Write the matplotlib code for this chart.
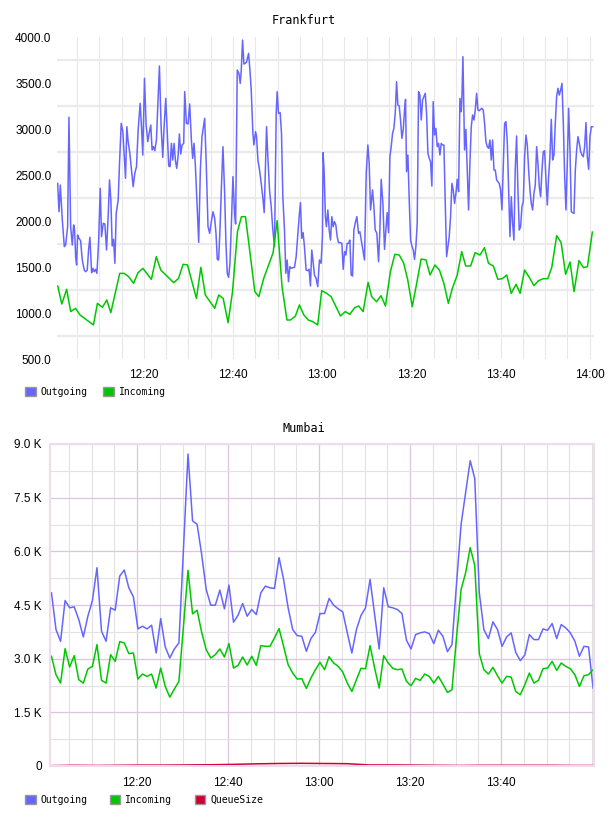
import numpy as np
import matplotlib
matplotlib.use("Agg")
import matplotlib.pyplot as plt
from matplotlib.patches import Patch
from matplotlib.ticker import MultipleLocator, FixedLocator

# --- Frankfurt: minutes after 12:00 and values ---
fra_out_t = [0.68, 0.98, 1.27, 1.72, 2.17, 2.47, 2.91, 3.21, 3.59, 3.96,
             4.26, 4.48, 4.71, 4.93, 5.15, 5.45, 5.82, 6.20, 6.64, 6.94,
             7.32, 7.61, 7.91, 8.29, 8.58, 8.88, 9.18, 9.48, 9.85, 10.23,
             10.52, 10.90, 11.27, 11.64, 12.02, 12.31, 12.61, 12.91, 13.21, 13.51,
             13.81, 14.25, 14.55, 14.93, 15.30, 15.60, 15.90, 16.19, 16.49, 16.87,
             17.24, 17.61, 17.98, 18.36, 18.73, 19.18, 19.48, 19.77, 20.15, 20.52,
             20.89, 21.19, 21.56, 21.86, 22.16, 22.46, 22.83, 23.21, 23.50, 23.88,
             24.25, 24.55, 24.92, 25.29, 25.59, 25.89, 26.19, 26.49, 26.79, 27.09,
             27.38, 27.68, 27.98, 28.28, 28.58, 28.95, 29.17, 29.55, 29.92, 30.29,
             30.67, 30.96, 31.26, 31.56, 32.01, 32.31, 32.68, 33.05, 33.43, 33.65,
             34.02, 34.40, 34.77, 35.14, 35.52, 35.89, 36.19, 36.48, 36.78, 37.08,
             37.38, 37.75, 38.13, 38.42, 38.72, 39.02, 39.32, 39.62, 39.99, 40.36,
             40.59, 40.96, 41.33, 41.63, 41.86, 42.15, 42.45, 42.75, 43.05, 43.50,
             43.80, 44.09, 44.47, 44.69, 45.06, 45.29, 45.59, 45.96, 46.33, 46.71,
             47.00, 47.53, 47.82, 48.20, 48.57, 48.94, 49.32, 49.69, 49.91, 50.21,
             50.58, 50.88, 51.18, 51.55, 51.85, 52.15, 52.45, 52.75, 53.05, 53.42,
             53.79, 54.17, 54.54, 54.84, 55.13, 55.43, 55.73, 56.03, 56.40, 56.78,
             57.07, 57.37, 57.67, 57.97, 58.27, 58.64, 59.01, 59.39, 59.76, 60.06,
             60.21, 60.43, 60.73, 60.95,
             61.28, 61.58, 61.87, 62.17, 62.47, 62.77, 63.07, 63.37, 63.67, 64.04,
             64.42, 64.72, 65.02, 65.32, 65.61, 65.91, 66.21, 66.51, 66.81, 67.11,
             67.41, 67.78, 68.16, 68.46, 68.76, 69.13, 69.50, 69.88, 70.25, 70.55,
             70.85, 71.30, 71.60, 71.90, 72.27, 72.65, 72.95, 73.24, 73.62, 73.99,
             74.29, 74.59, 74.89, 75.19, 75.49, 75.79, 76.09, 76.39, 76.69, 76.98,
             77.28, 77.58, 77.88, 78.18, 78.48, 78.70, 78.93, 79.23, 79.53, 79.83,
             80.13, 80.43, 80.72, 81.02, 81.32, 81.62, 81.92, 82.22, 82.52, 82.82,
             83.12, 83.42, 83.72, 84.02, 84.31, 84.61, 84.91, 85.21, 85.51, 85.81,
             86.11, 86.41, 86.71, 87.01, 87.31, 87.61, 87.91, 88.20, 88.50, 88.80,
             89.10, 89.40, 89.70, 90.00, 90.30, 90.60, 90.90, 91.20, 91.35, 91.57,
             91.80, 91.94, 92.24, 92.54, 92.84, 93.14, 93.44, 93.74, 94.04, 94.34,
             94.64, 94.94, 95.24, 95.53, 95.83, 96.13, 96.43, 96.73, 97.03, 97.33,
             97.63, 97.93, 98.23, 98.53, 98.83, 99.13, 99.42, 99.72, 100.02, 100.32,
             100.62, 100.92, 101.22, 101.52, 101.82, 102.12, 102.42, 102.72, 103.01, 103.31,
             103.61, 103.91, 104.21, 104.51, 104.81, 105.11, 105.41, 105.71, 106.01, 106.31,
             106.61, 106.90, 107.20, 107.50, 107.80, 108.10, 108.40, 108.70, 109.00, 109.30,
             109.60, 109.90, 110.20, 110.50, 110.79, 111.09, 111.39, 111.69, 111.99, 112.29,
             112.59, 112.89, 113.19, 113.49, 113.79, 114.09, 114.39, 114.68, 114.98, 115.28,
             115.58, 115.88, 116.18, 116.48, 116.78, 117.08, 117.38, 117.68, 117.97, 118.27,
             118.57, 118.87, 119.17, 119.47, 119.77, 120.07, 120.37, 120.67]
fra_out = [2409, 2101, 2391, 2011, 1721, 1739, 1938, 3127, 1938, 1739,
           1957, 1902, 1612, 1522, 1848, 1812, 1786, 1576, 1467, 1449,
           1467, 1685, 1823, 1438, 1485, 1449, 1475, 1431, 1757, 2355,
           1830, 1975, 1967, 1685, 2065, 2446, 2228, 1728, 1801, 1540,
           2083, 2228, 2627, 3062, 2971, 2717, 2464, 3025, 2862, 2735,
           2554, 2373, 2518, 2591, 2989, 3279, 3025, 2717, 3551, 3043,
           2862, 2953, 3043, 2772, 2808, 2764, 2880, 3351, 3685, 3025,
           2692, 3025, 3333, 2917, 2598, 2591, 2844, 2663, 2844, 2656,
           2572, 2699, 2946, 2728, 2826, 2844, 3406, 3062, 3054, 3272,
           2880, 2681, 2844, 2609, 2120, 1768, 2554, 2917, 3043, 3116,
           2591, 1938, 1866, 1993, 2101, 2029, 1866, 1583, 1576, 1902,
           2337, 2808, 2301, 1757, 1431, 1388, 1540, 1938, 2482, 2083,
           1967, 3641, 3605, 3496, 3641, 3967, 3706, 3714, 3728, 3822,
           3641, 3424, 2953, 2826, 2971, 2917, 2663, 2554, 2409, 2246,
           2091, 3025, 2699, 2337, 2156, 1902, 1721, 3170, 3406, 3170,
           3177, 2953, 2264, 1902, 1431, 1576, 1341, 1504, 1486, 1493,
           1496, 1612, 1848, 2047, 2199, 1812, 1873, 1721, 1467, 1460,
           1475, 1294, 1685, 1558, 1413, 1377, 1286, 1576, 1540, 1830,
           2743, 2554, 2047, 1938,
           2120, 1902, 1793, 2047, 1938, 1993, 1957, 1830, 1765, 1765,
           1757, 1475, 1667, 1630, 1757, 1757, 1793, 1413, 1402, 1902,
           1975, 2047, 1866, 1884, 1793, 1685, 1576, 2518, 2826, 2627,
           2120, 2337, 2156, 1902, 1866, 1558, 1902, 2453, 2192, 1692,
           1902, 2091, 1873, 2699, 2808, 2953, 3007, 3170, 3514, 3261,
           3250, 3098, 2899, 2989, 3206, 3322, 2536, 2717, 2228, 1793,
           1728, 1685, 1583, 1721, 1975, 3406, 3369, 3098, 3315, 3351,
           3388, 3170, 2735, 2681, 2645, 2380, 3297, 2935, 3007, 2808,
           2844, 2717, 2844, 2826, 2826, 2192, 1612, 1721, 1830, 2047,
           2409, 2337, 2192, 2301, 2453, 2319, 3333, 3188, 3351, 3786,
           3170, 2772, 2996, 2554, 2120, 2627, 3025, 3152, 3098, 3206,
           3388, 3206, 3199, 3214, 3225, 3206, 3062, 2862, 2808, 2790,
           2880, 2663, 2880, 2554, 2554, 2446, 2428, 2409, 2337, 2120,
           2591, 3062, 3080, 2862, 2337, 1830, 2264, 1975, 1793, 2572,
           2924, 2337, 1902, 1938, 2156, 2210, 2699, 2935, 2826, 2554,
           2337, 2192, 2120, 2301, 2391, 2808, 2627, 2373, 2264, 2554,
           2754, 2764, 2446, 2174, 2482, 2699, 3105, 2663, 2717, 3062,
           3351, 3442, 3369, 3424, 3496, 3062, 2482, 2120, 2627, 3225,
           2772, 2101, 2091, 2083, 2554, 2772, 2917, 2844, 2754, 2717,
           2699, 2808, 3069, 2699, 2562, 2917, 3025, 3025]

fra_in_t = [0.7, 1.6, 2.7, 3.6, 4.7, 5.7, 8.7, 9.6, 10.7, 11.7,
            12.6, 14.6, 15.6, 16.6, 17.7, 18.7, 19.8, 21.7, 22.8, 23.8,
            26.7, 27.8, 28.8, 29.8, 31.8, 32.8, 33.8, 35.9, 36.8, 37.8,
            38.9, 39.9, 41.0, 41.9, 42.8, 44.9, 45.8, 46.9, 49.0, 49.9,
            51.0, 52.1, 52.9, 54.0, 54.9, 55.9, 56.9, 57.9, 59.0, 59.9,
            61.0, 62.0, 63.1, 64.1, 65.2, 66.2, 67.3, 68.2, 69.2, 70.3,
            71.1, 72.2, 73.2, 74.2, 75.3, 76.3, 77.3, 78.3, 79.2, 80.2,
            81.2, 82.2, 83.3, 84.2, 85.3, 86.3, 87.3, 88.3, 89.2, 90.3,
            91.3, 92.2, 93.3, 94.3, 95.4, 96.4, 97.3, 98.4, 99.4, 100.4,
            101.4, 102.4, 103.5, 104.4, 105.4, 106.5, 107.5, 108.5, 109.6, 110.6,
            111.5, 112.6, 113.6, 114.6, 115.6, 116.5, 117.6, 118.6, 119.5, 120.6]
fra_in = [1293, 1098, 1257, 1015, 1051, 978, 870, 1105, 1062, 1141,
          1004, 1431, 1431, 1395, 1323, 1438, 1485, 1366, 1612, 1467,
          1330, 1377, 1529, 1522, 1159, 1496, 1196, 1051, 1196, 1159,
          895, 1232, 1884, 2047, 2047, 1232, 1178, 1377, 1656, 2004,
          1286, 924, 924, 967, 1087, 978, 924, 906, 870, 1243,
          1214, 1178, 1069, 968, 1015, 986, 1058, 1076, 1015, 1333,
          1178, 1123, 1188, 1076, 1449, 1638, 1630, 1540, 1359, 1069,
          1322, 1587, 1576, 1413, 1522, 1467, 1322, 1105, 1268, 1413,
          1667, 1511, 1511, 1656, 1630, 1710, 1540, 1511, 1366, 1373,
          1413, 1214, 1312, 1214, 1467, 1384, 1297, 1351, 1373, 1373,
          1496, 1841, 1765, 1420, 1554, 1232, 1569, 1493, 1504, 1880]

# --- Mumbai: one sample per minute starting 12:01 ---
mum_start = 1.2
mum_out = [4841, 3813, 3486, 4626, 4421, 4449, 4093, 3608, 4187, 4626,
           5542, 3766, 3486, 4421, 4355, 5308, 5477, 4981, 4729, 3832,
           3907, 3832, 3935, 3159, 4121, 3327, 3019, 3271, 3439, 6060,
           8720, 6851, 6757, 5916, 4935, 4495, 4495, 4916, 4393, 5056,
           4019, 4215, 4542, 4187, 4374, 4234, 4841, 5028, 4981, 4963,
           5823, 5215, 4421, 3813, 3645, 3626, 3206, 3561, 3738, 4262,
           4262, 4682, 4495, 4393, 4308, 3720, 3159, 3813, 4206, 4421,
           5215, 4234, 3271, 4981, 4449, 4421, 4374, 4262, 3514, 3271,
           3673, 3720, 3748, 3701, 3421, 3794, 3626, 3196, 3393, 5100,
           6757, 7645, 8533, 8038, 4841, 3813, 3561, 4028, 3813, 3346,
           3608, 3720, 3178, 2944, 3103, 3673, 3533, 3533, 3832, 3794,
           3981, 3561, 3953, 3860, 3720, 3486, 3066, 3346, 3327, 2178]
mum_in = [3066, 2551, 2318, 3280, 2766, 3084, 2411, 2318, 2710, 2785,
          3393, 2393, 2318, 3112, 2925, 3477, 3439, 3140, 3159, 2430,
          2570, 2505, 2570, 2178, 2738, 2224, 1925, 2150, 2365, 3900,
          5467, 4252, 4355, 3738, 3252, 3019, 3112, 3271, 3047, 3421,
          2738, 2813, 3047, 2822, 3066, 2813, 3365, 3346, 3346, 3580,
          3841, 3346, 2832, 2598, 2430, 2439, 2168, 2458, 2692, 2897,
          2692, 3056, 2879, 2785, 2626, 2318, 2084, 2411, 2729, 2720,
          3365, 2738, 2178, 3084, 2879, 2729, 2692, 2710, 2365, 2243,
          2449, 2393, 2570, 2505, 2318, 2505, 2290, 2056, 2131, 3600,
          4935, 5402, 6103, 5608, 3140, 2692, 2570, 2757, 2523, 2318,
          2505, 2486, 2084, 1991, 2271, 2598, 2318, 2393, 2720, 2738,
          2925, 2673, 2879, 2785, 2720, 2551, 2224, 2523, 2551, 2692]
queue_t = [1, 6, 11, 16, 21, 26, 31, 36, 41, 46, 51, 56, 61, 66, 71, 76,
           81, 86, 91, 96, 101, 106, 111, 116, 120]
queue = [10, 20, 15, 20, 25, 25, 30, 35, 45, 60, 70, 75, 70, 65, 30, 30,
         25, 20, 15, 20, 20, 20, 20, 15, 15]

time_ticks = [20, 40, 60, 80, 100, 120]
time_labels = ["12:20", "12:40", "13:00", "13:20", "13:40", "14:00"]
fra_yticks = [500, 1000, 1500, 2000, 2500, 3000, 3500, 4000]
fra_ylabels = ["500.0", "1000.0", "1500.0", "2000.0", "2500.0", "3000.0", "3500.0", "4000.0"]
mum_yticks = [0, 1500, 3000, 4500, 6000, 7500, 9000]
mum_ylabels = ["0", "1.5 K", "3.0 K", "4.5 K", "6.0 K", "7.5 K", "9.0 K"]

BLUE = "#6666ff"
GREEN = "#00c800"
RED = "#cc0033"
W, H = 608, 816

fig = plt.figure(figsize=(W / 100, H / 100), dpi=100)
tick_font = {"family": "Liberation Sans", "size": 8.5}
mono = "DejaVu Sans Mono"


def box(l, t, r, b):
    return [l / W, 1 - b / H, (r - l) / W, (b - t) / H]


# ---------------- Frankfurt ----------------
ax1 = fig.add_axes(box(57, 37, 594, 359))
ax1.plot(fra_out_t, fra_out, color=BLUE, lw=1.1)
ax1.plot(fra_in_t, fra_in, color=GREEN, lw=1.1)
ax1.set_xlim(0.53, 120.97)
ax1.set_ylim(500, 4000)
ax1.xaxis.set_major_locator(FixedLocator(time_ticks))
ax1.set_xticklabels(time_labels, **tick_font)
ax1.xaxis.set_minor_locator(MultipleLocator(5))
ax1.set_yticks(fra_yticks)
ax1.set_yticklabels(fra_ylabels, **tick_font)
ax1.yaxis.set_minor_locator(FixedLocator(np.arange(750, 4000, 500)))
ax1.grid(which="both", axis="x", color="#e8e8e8", lw=0.8)
ax1.grid(which="minor", axis="y", color="#ebebeb", lw=1.6)
ax1.tick_params(which="both", length=0)
ax1.tick_params(axis="y", pad=4)
ax1.tick_params(axis="x", pad=7)
for s in ax1.spines.values():
    s.set_visible(False)
ax1.set_axisbelow(True)
fig.text(0.5, 1 - 20 / H, "Frankfurt", ha="center", va="center", family=mono, fontsize=8.5)
fig.legend(handles=[Patch(facecolor=BLUE, edgecolor="#999999", label="Outgoing"),
                    Patch(facecolor=GREEN, edgecolor="#999999", label="Incoming")],
           loc="center left", bbox_to_anchor=(21 / W, 1 - 392 / H), ncol=2, frameon=False,
           prop={"family": mono, "size": 7}, handlelength=1.1, handleheight=1.1,
           handletextpad=0.5, columnspacing=1.6, borderaxespad=0)

# ---------------- Mumbai ----------------
mum_t = mum_start + np.arange(len(mum_out))
ax2 = fig.add_axes(box(50, 444, 594, 766))
ax2.plot(mum_t, mum_out, color=BLUE, lw=1.1)
ax2.plot(mum_t, mum_in, color=GREEN, lw=1.1)
ax2.plot(queue_t, queue, color=RED, lw=1.1)
ax2.set_xlim(0.88, 120.4)
ax2.set_ylim(0, 9000)
ax2.xaxis.set_major_locator(FixedLocator(time_ticks[:5]))
ax2.set_xticklabels(time_labels[:5], **tick_font)
ax2.xaxis.set_minor_locator(MultipleLocator(5))
ax2.set_yticks(mum_yticks)
ax2.set_yticklabels(mum_ylabels, **tick_font)
ax2.yaxis.set_minor_locator(MultipleLocator(750))
ax2.grid(which="minor", color="#e2e2e2", lw=0.8)
ax2.grid(which="major", color="#dcc4e2", lw=0.9)
ax2.tick_params(which="both", length=0)
ax2.tick_params(axis="y", pad=6)
ax2.tick_params(axis="x", pad=8)
for s in ax2.spines.values():
    s.set_color("#eedcee")
    s.set_linewidth(1.5)
ax2.set_axisbelow(True)
fig.text(0.5, 1 - 429 / H, "Mumbai", ha="center", va="center", family=mono, fontsize=8.5)
fig.legend(handles=[Patch(facecolor=BLUE, edgecolor="#999999", label="Outgoing"),
                    Patch(facecolor=GREEN, edgecolor="#999999", label="Incoming"),
                    Patch(facecolor=RED, edgecolor="#999999", label="QueueSize")],
           loc="center left", bbox_to_anchor=(21 / W, 1 - 800 / H), ncol=3, frameon=False,
           prop={"family": mono, "size": 7}, handlelength=1.1, handleheight=1.1,
           handletextpad=0.5, columnspacing=2.3, borderaxespad=0)

fig.savefig("out.png", dpi=100)
